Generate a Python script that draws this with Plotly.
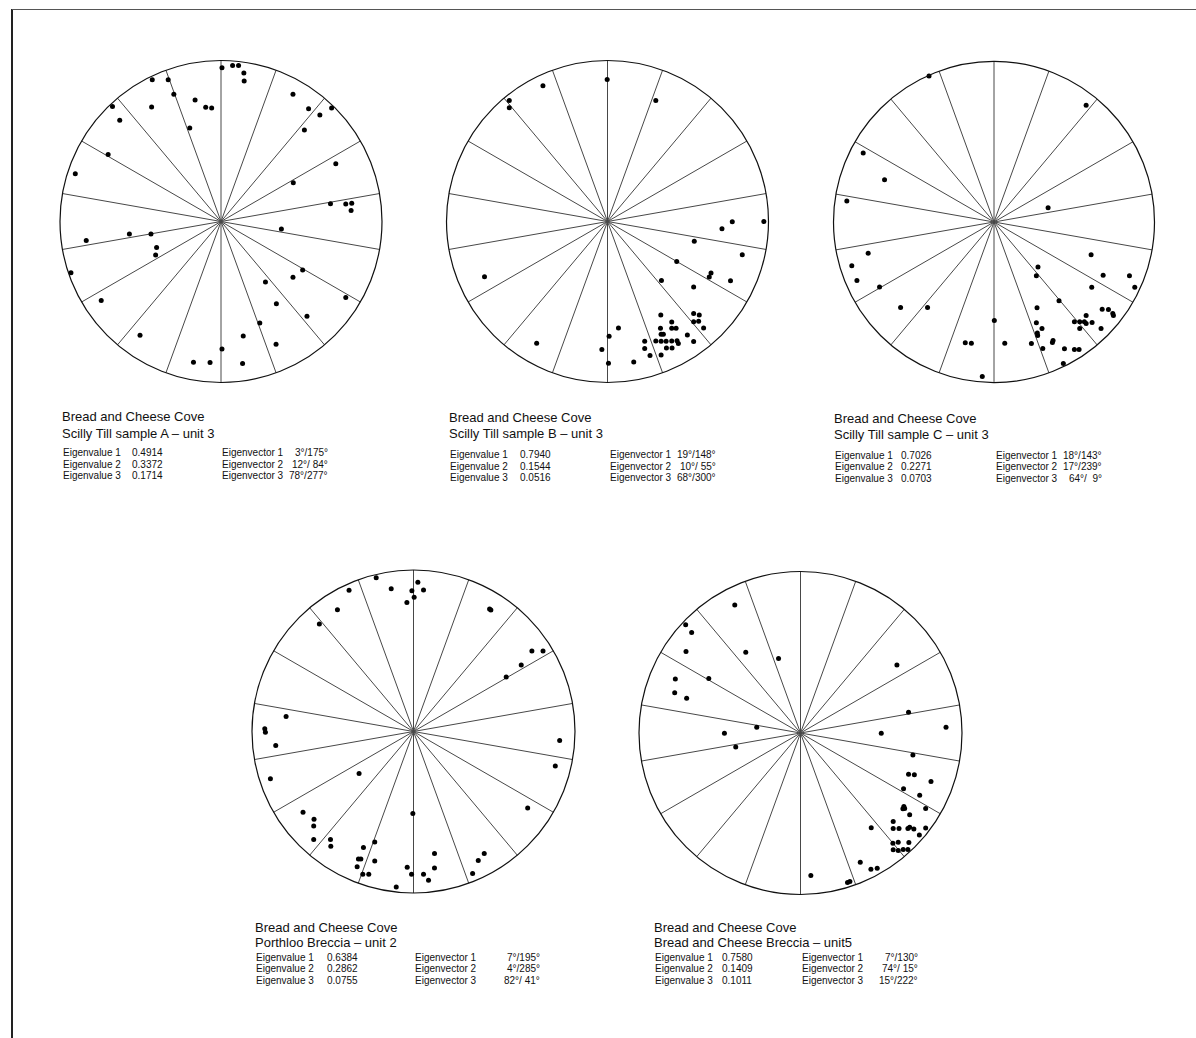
import math
import plotly.graph_objects as go

W, H = 1196, 1038

# Clast fabric poles (east, north), in units of the primitive-circle radius
a_east = [0.006, 0.072, 0.109, 0.142, 0.144, -0.427, -0.328, -0.293, -0.431, -0.161,
          -0.095, -0.058, -0.194, -0.674, -0.629, -0.701, -0.905, 0.447, 0.544, 0.614,
          0.687, 0.518, 0.713, 0.449, 0.680, 0.775, 0.812, 0.808, 0.375, -0.837,
          -0.569, -0.435, -0.400, -0.406, -0.932, -0.744, -0.503, 0.276, 0.447, 0.507,
          0.775, 0.344, 0.534, 0.241, 0.342, 0.138, 0.006, 0.134, -0.171, -0.068]
a_north = [0.955, 0.969, 0.969, 0.922, 0.872, 0.880, 0.880, 0.790, 0.711, 0.755,
           0.709, 0.705, 0.581, 0.715, 0.629, 0.416, 0.297, 0.790, 0.701, 0.662,
           0.705, 0.569, 0.359, 0.241, 0.111, 0.109, 0.113, 0.068, -0.047, -0.118,
           -0.078, -0.078, -0.161, -0.208, -0.318, -0.491, -0.707, -0.375, -0.346, -0.301,
           -0.472, -0.511, -0.588, -0.631, -0.763, -0.711, -0.792, -0.882, -0.874, -0.876]

b_east = [-0.002, -0.401, -0.610, -0.610, 0.300, 0.775, 0.971, 0.711, 0.539, 0.837,
          0.430, 0.643, 0.632, 0.764, 0.335, 0.535, -0.764, -0.440, 0.535, 0.570,
          0.535, 0.566, 0.597, 0.331, 0.399, 0.329, 0.399, 0.426, 0.333, 0.347,
          0.496, 0.231, 0.300, 0.333, 0.364, 0.399, 0.432, 0.440, 0.535, 0.231,
          0.366, 0.401, 0.264, 0.333, 0.068, 0.010, -0.035, 0.006, 0.163]
b_north = [0.882, 0.843, 0.752, 0.707, 0.752, -0.002, 0.000, -0.045, -0.122, -0.207,
           -0.248, -0.320, -0.345, -0.368, -0.366, -0.407, -0.343, -0.756, -0.572, -0.581,
           -0.622, -0.620, -0.661, -0.581, -0.624, -0.663, -0.663, -0.663, -0.700, -0.700,
           -0.705, -0.744, -0.742, -0.744, -0.744, -0.742, -0.740, -0.758, -0.746, -0.789,
           -0.785, -0.785, -0.833, -0.829, -0.661, -0.713, -0.795, -0.880, -0.872]

c_east = [-0.405, 0.574, -0.815, -0.682, -0.917, 0.337, -0.784, -0.886, -0.854, -0.713,
          -0.582, -0.414, 0.605, 0.274, 0.264, 0.680, 0.844, 0.877, 0.609, 0.405,
          0.268, 0.674, 0.713, 0.740, 0.744, 0.574, 0.501, 0.534, 0.563, 0.574,
          0.611, 0.534, 0.667, 0.264, 0.299, 0.270, 0.272, 0.368, 0.364, 0.233,
          0.304, 0.439, 0.501, 0.530, 0.432, 0.002, -0.179, -0.141, 0.067, -0.073]
c_north = [0.909, 0.728, 0.430, 0.264, 0.131, 0.089, -0.195, -0.272, -0.364, -0.405,
           -0.532, -0.532, -0.204, -0.281, -0.335, -0.331, -0.335, -0.407, -0.407, -0.491,
           -0.534, -0.543, -0.545, -0.570, -0.582, -0.582, -0.622, -0.622, -0.622, -0.632,
           -0.626, -0.663, -0.663, -0.628, -0.663, -0.692, -0.707, -0.738, -0.751, -0.757,
           -0.788, -0.790, -0.794, -0.794, -0.881, -0.613, -0.753, -0.755, -0.755, -0.963]

d_east = [-0.231, -0.138, 0.027, 0.062, -0.010, 0.004, -0.041, -0.399, -0.471, -0.583,
          0.471, 0.479, 0.733, 0.802, 0.667, 0.574, -0.789, -0.921, -0.917, -0.853,
          0.905, 0.878, -0.886, -0.337, 0.707, -0.004, -0.684, -0.616, -0.618, -0.618,
          -0.514, -0.512, -0.240, -0.310, -0.341, -0.326, -0.240, -0.349, -0.314, -0.277,
          -0.107, -0.039, -0.012, 0.062, 0.093, 0.130, 0.130, 0.438, 0.401, 0.366]
d_north = [0.952, 0.884, 0.924, 0.876, 0.872, 0.831, 0.798, 0.874, 0.754, 0.665,
           0.758, 0.752, 0.498, 0.498, 0.411, 0.337, 0.093, 0.017, -0.004, -0.087,
           -0.056, -0.213, -0.293, -0.260, -0.473, -0.508, -0.500, -0.543, -0.585, -0.669,
           -0.669, -0.711, -0.684, -0.719, -0.789, -0.789, -0.802, -0.837, -0.884, -0.884,
           -0.963, -0.841, -0.884, -0.884, -0.921, -0.756, -0.845, -0.756, -0.798, -0.880]

e_east = [-0.407, -0.711, -0.674, -0.709, -0.339, -0.136, -0.775, -0.568, -0.779, -0.705,
          -0.471, -0.271, -0.401, 0.597, 0.669, 0.901, 0.500, 0.696, 0.669, 0.705,
          0.808, 0.638, 0.738, 0.640, 0.645, 0.634, 0.775, 0.676, 0.574, 0.438,
          0.574, 0.610, 0.665, 0.676, 0.702, 0.775, 0.736, 0.572, 0.605, 0.671,
          0.574, 0.605, 0.636, 0.665, 0.370, 0.436, 0.475, 0.064, 0.291, 0.306]
e_north = [0.793, 0.671, 0.622, 0.504, 0.500, 0.461, 0.335, 0.337, 0.250, 0.215,
           -0.002, 0.035, -0.087, 0.421, 0.128, 0.035, -0.002, -0.136, -0.256, -0.258,
           -0.300, -0.345, -0.386, -0.455, -0.467, -0.469, -0.467, -0.506, -0.548, -0.587,
           -0.591, -0.591, -0.591, -0.583, -0.595, -0.589, -0.632, -0.682, -0.676, -0.678,
           -0.723, -0.727, -0.721, -0.721, -0.800, -0.843, -0.837, -0.882, -0.926, -0.919]

site = "Bread and Cheese Cove"
units = ["Scilly Till sample A – unit 3", "Scilly Till sample B – unit 3",
         "Scilly Till sample C – unit 3", "Porthloo Breccia – unit 2",
         "Bread and Cheese Breccia – unit5"]
eigenvalues = [["0.4914", "0.3372", "0.1714"],
               ["0.7940", "0.1544", "0.0516"],
               ["0.7026", "0.2271", "0.0703"],
               ["0.6384", "0.2862", "0.0755"],
               ["0.7580", "0.1409", "0.1011"]]
eigenvectors = [["3°/175°", "12°/ 84°", "78°/277°"],
                ["19°/148°", "10°/ 55°", "68°/300°"],
                ["18°/143°", "17°/239°", "64°/  9°"],
                ["7°/195°", "4°/285°", "82°/ 41°"],
                ["7°/130°", "74°/ 15°", "15°/222°"]]
spoke_step = 20  # sector width of the net, degrees

samples = [(a_east, a_north), (b_east, b_north), (c_east, c_north),
           (d_east, d_north), (e_east, e_north)]

# net placement (pixel centre, radius) and caption anchors
nets = [(221, 221.5, 161), (607.5, 221.5, 161), (994, 222, 160.5),
        (413.5, 731.5, 161.5), (800.5, 733, 161.5)]
captions = [
    dict(tx=60, ty=416, sy=433, rows=[452.5, 464, 475.5], vx=130, cx=220, ax=330),
    dict(tx=447, ty=417, sy=433.5, rows=[454, 466, 477.5], vx=518, cx=608, ax=718),
    dict(tx=832, ty=418, sy=435, rows=[455, 466.5, 478], vx=899, cx=994, ax=1104),
    dict(tx=253, ty=927, sy=942, rows=[957, 968.5, 980], vx=325, cx=413, ax=542),
    dict(tx=652, ty=927, sy=942.5, rows=[957, 968.5, 980.5], vx=720, cx=800, ax=920),
]

fig = go.Figure()
FONT = "Liberation Sans, Arial, sans-serif"
ROW_SIZE = 10
annotations = []


def px(x):
    return x / W


def py(y):
    return 1 - y / H


for i, ((east, north), (cx, cy, r), cap) in enumerate(zip(samples, nets, captions)):
    pid = "polar" if i == 0 else f"polar{i + 1}"
    radius = [math.hypot(e, n) for e, n in zip(east, north)]
    azimuth = [math.degrees(math.atan2(e, n)) % 360 for e, n in zip(east, north)]
    fig.add_trace(go.Scatterpolar(
        r=radius, theta=azimuth, mode="markers", subplot=pid,
        marker=dict(size=5, color="black"), showlegend=False, hoverinfo="skip"))
    fig.update_layout(**{pid: dict(
        domain=dict(x=[px(cx - r), px(cx + r)], y=[py(cy + r), py(cy - r)]),
        bgcolor="white",
        radialaxis=dict(range=[0, 1], visible=False),
        angularaxis=dict(rotation=90, direction="clockwise", tickmode="linear",
                         tick0=0, dtick=spoke_step, showticklabels=False, ticks="",
                         showgrid=True, gridcolor="#484848", gridwidth=0.8,
                         showline=True, linecolor="#111111", linewidth=1.2),
    )})

    annotations.append(dict(x=px(cap["tx"]), y=py(cap["ty"]), text=site,
                            font=dict(size=13)))
    annotations.append(dict(x=px(cap["tx"]), y=py(cap["sy"]), text=units[i],
                            font=dict(size=13)))
    for k in range(3):
        yy = py(cap["rows"][k])
        annotations.append(dict(x=px(cap["tx"] + 1), y=yy, text=f"Eigenvalue {k + 1}",
                                font=dict(size=ROW_SIZE)))
        annotations.append(dict(x=px(cap["vx"]), y=yy, text=eigenvalues[i][k],
                                font=dict(size=ROW_SIZE)))
        annotations.append(dict(x=px(cap["cx"]), y=yy, text=f"Eigenvector {k + 1}",
                                font=dict(size=ROW_SIZE)))
        annotations.append(dict(x=px(cap["ax"]), y=yy,
                                text=eigenvectors[i][k].replace(" ", "\u00a0"),
                                xanchor="right", font=dict(size=ROW_SIZE)))

for a in annotations:
    a.setdefault("xanchor", "left")
    a.update(xref="paper", yref="paper", yanchor="middle", showarrow=False)
    a["font"].update(family=FONT, color="#111111")

# page frame
shapes = [
    dict(type="line", xref="paper", yref="paper", x0=px(12), x1=px(12), y0=py(9), y1=0,
         line=dict(color="#222222", width=2)),
    dict(type="line", xref="paper", yref="paper", x0=px(12), x1=1, y0=py(9.5), y1=py(9.5),
         line=dict(color="#555555", width=1.2)),
]

fig.update_layout(width=W, height=H, margin=dict(l=0, r=0, t=0, b=0),
                  paper_bgcolor="white", plot_bgcolor="white", template="none",
                  annotations=annotations, shapes=shapes, showlegend=False)

fig.write_html("out.html")
